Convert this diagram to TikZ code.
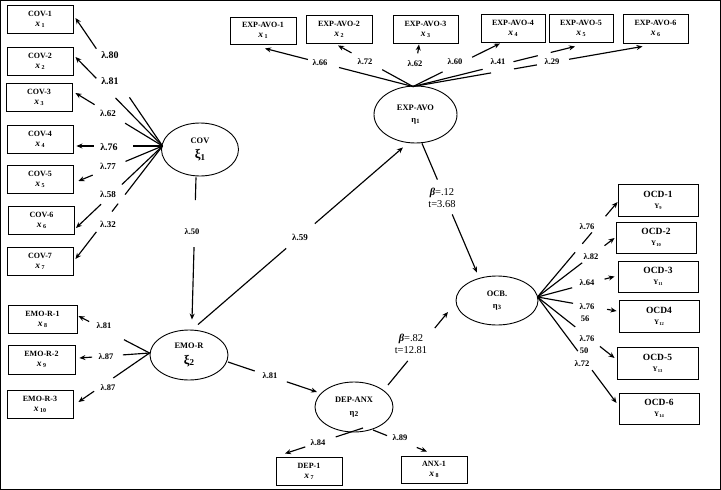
\documentclass[tikz,border=0pt]{standalone}
\usepackage{fontspec}
\setmainfont{Liberation Serif}
\usetikzlibrary{shapes.geometric,arrows.meta,calc}
\newcommand\segl[4]{\draw[conn] ($(#1)!#3!(#2)$) -- ($(#1)!#4!(#2)$);}
\newcommand\sega[3]{\draw[conn,arr] ($(#1)!#3!(#2)$) -- (#2);}
\newcommand\xsub[1]{{\fontsize{9.5}{10}\selectfont\itshape x}\,\raisebox{-1.2pt}{\fontsize{6}{6}\selectfont #1}}
\newcommand\ysub[1]{{\fontsize{7}{7}\selectfont Y\raisebox{-1pt}{\fontsize{4.5}{5}\selectfont #1}}}
\begin{document}
\begin{tikzpicture}[x=1pt,y=-1pt,
  conn/.style={line width=1.15pt},
  arr/.style={-{Stealth[length=6pt,width=5pt]}},
  obs/.style={draw,line width=0.9pt,minimum width=66pt,minimum height=28pt,inner sep=0pt,align=center,font=\fontsize{8}{9}\selectfont\bfseries},
  ocd/.style={obs,minimum width=80pt,minimum height=31pt,font=\fontsize{9.5}{10}\selectfont\bfseries},
  lat/.style={draw,ellipse,line width=0.9pt,inner sep=0pt,align=center,font=\fontsize{8.4}{9}\selectfont\bfseries},
  lam/.style={font=\fontsize{8.5}{9}\selectfont\bfseries,inner sep=0pt},
  lamb/.style={font=\fontsize{10}{11}\selectfont\bfseries,inner sep=0pt},
  lamm/.style={font=\fontsize{9}{10}\selectfont\bfseries,inner sep=0pt},
  beta/.style={font=\fontsize{10.5}{12}\selectfont,inner sep=0pt,align=center}
]
\useasboundingbox (0,0) rectangle (721,490);
\draw[line width=1pt] (0.5,0.5) rectangle (720.5,489.5);

% latent variables
\node[lat,minimum width=77pt,minimum height=53pt] (cov) at (200,149.5) {COV\\[5pt]{\fontsize{13}{13}\selectfont ξ\raisebox{-1.5pt}{\fontsize{9}{9}\selectfont 1}}};
\node[lat,minimum width=83pt,minimum height=57pt] (expavo) at (415.5,114.5) {EXP-AVO\\[3pt]{\fontsize{8.5}{8}\selectfont η\raisebox{-1pt}{\fontsize{6.5}{6}\selectfont 1}}};
\node[lat,minimum width=78pt,minimum height=50pt] (emo) at (189,355) {EMO-R\\[5pt]{\fontsize{13}{13}\selectfont ξ\raisebox{-1.5pt}{\fontsize{9}{9}\selectfont 2}}};
\node[lat,minimum width=78pt,minimum height=50pt] (depanx) at (354,407) {DEP-ANX\\[4pt]{\fontsize{8.5}{8}\selectfont η\raisebox{-1pt}{\fontsize{7.5}{7}\selectfont 2}}};
\node[lat,minimum width=82pt,minimum height=49pt] (ocb) at (497,300.5) {OCB.\\[3pt]{\fontsize{8.5}{8}\selectfont η\raisebox{-1pt}{\fontsize{6.5}{6}\selectfont 3}}};

% COV indicators
\node[obs] (cov1) at (40,19) {COV-1\\[1pt]\xsub{1}};
\node[obs] (cov2) at (40,61.5) {COV-2\\[1pt]\xsub{2}};
\node[obs] (cov3) at (39,97) {COV-3\\[1pt]\xsub{3}};
\node[obs] (cov4) at (40,139.5) {COV-4\\[1pt]\xsub{4}};
\node[obs] (cov5) at (40,179.5) {COV-5\\[1pt]\xsub{5}};
\node[obs] (cov6) at (41.5,220) {COV-6\\[1pt]\xsub{6}};
\node[obs] (cov7) at (40,261) {COV-7\\[1pt]\xsub{7}};
% EMO-R indicators
\node[obs,minimum width=69pt] (emo1) at (42.5,319) {EMO-R-1\\[1pt]\xsub{8}};
\node[obs,minimum width=67pt,minimum height=29pt] (emo2) at (41.5,359.5) {EMO-R-2\\[1pt]\xsub{9}};
\node[obs] (emo3) at (40,404) {EMO-R-3\\[1pt]\xsub{10}};
% EXP-AVO indicators
\node[obs,minimum height=27pt] (ea1) at (263,30.5) {EXP-AVO-1\\[1pt]\xsub{1}};
\node[obs] (ea2) at (339,29) {EXP-AVO-2\\[1pt]\xsub{2}};
\node[obs,minimum width=65pt] (ea3) at (425.5,29) {EXP-AVO-3\\[1pt]\xsub{3}};
\node[obs,minimum width=64pt] (ea4) at (513,28.5) {EXP-AVO-4\\[1pt]\xsub{4}};
\node[obs,minimum width=64pt] (ea5) at (581,28.5) {EXP-AVO-5\\[1pt]\xsub{5}};
\node[obs,minimum width=65pt,minimum height=29pt] (ea6) at (655.5,28.5) {EXP-AVO-6\\[1pt]\xsub{6}};
% OCB indicators
\node[ocd,minimum height=32pt] (ocd1) at (658,200) {OCD-1\\[1pt]\ysub{9}};
\node[ocd] (ocd2) at (656,237.5) {OCD-2\\[1pt]\ysub{10}};
\node[ocd] (ocd3) at (658,276.5) {OCD-3\\[1pt]\ysub{11}};
\node[ocd,minimum height=32pt] (ocd4) at (659,316) {OCD4\\[1pt]\ysub{12}};
\node[ocd,minimum width=81pt,minimum height=32pt] (ocd5) at (657.5,363) {OCD-5\\[1pt]\ysub{13}};
\node[ocd] (ocd6) at (659,408.5) {OCD-6\\[1pt]\ysub{14}};
% DEP-ANX indicators
\node[obs] (dep1) at (309,471) {DEP-1\\[1pt]\xsub{7}};
\node[obs,minimum height=27pt] (anx1) at (434,469.5) {ANX-1\\[1pt]\xsub{8}};

% fan points and arrow tips
\coordinate (covf) at ($(cov.west)+(1.5,-3.5)$);
\coordinate (tc1) at ($(cov1.east)+(2,-1)$);
\coordinate (tc2) at ($(cov2.east)+(2,-4.5)$);
\coordinate (tc3) at ($(cov3.east)+(3,-4)$);
\coordinate (tc4) at ($(cov4.east)+(3,6.5)$);
\coordinate (tc5) at ($(cov5.east)+(5,1.5)$);
\coordinate (tc6) at ($(cov6.east)+(1,8)$);
\coordinate (tc7) at ($(cov7.east)+(2,-2)$);
\coordinate (emof) at ($(emo.west)+(0,-2)$);
\coordinate (te1) at ($(emo1.east)+(1,-3)$);
\coordinate (te2) at ($(emo2.east)+(4,-1.5)$);
\coordinate (te3) at ($(emo3.east)+(5,-2)$);
\coordinate (eaf) at ($(expavo.north)+(-2.5,1)$);
\coordinate (ta1) at ($(ea1.south)+(2,4)$);
\coordinate (ta2) at ($(ea2.south)+(-1,2)$);
\coordinate (ta3) at ($(ea3.south)+(-6.5,1)$);
\coordinate (ta4) at ($(ea4.south)+(-13,0.5)$);
\coordinate (ta5) at ($(ea5.south)+(-6,3.5)$);
\coordinate (ta6) at ($(ea6.south)+(-13,3)$);
\coordinate (ocbf) at ($(ocb.east)+(-1,-3.5)$);
\coordinate (to1) at ($(ocd1.west)+(0,2)$);
\coordinate (to2) at ($(ocd2.west)+(-1,0.5)$);
\coordinate (to3) at ($(ocd3.west)+(-3,0)$);
\coordinate (to4) at ($(ocd4.west)+(-2,-5)$);
\coordinate (to5) at ($(ocd5.west)+(-2,-5)$);
\coordinate (to6) at ($(ocd6.west)+(-2,-5.5)$);

% COV loadings
\segl{covf}{tc1}{0}{0.38}\sega{covf}{tc1}{0.76}
\segl{covf}{tc2}{0}{0.54}\sega{covf}{tc2}{0.76}
\segl{covf}{tc3}{0}{0.43}\sega{covf}{tc3}{0.78}
\segl{covf}{tc4}{0}{0.34}\sega{covf}{tc4}{0.80}
\segl{covf}{tc5}{0}{0.44}\sega{covf}{tc5}{0.83}
\segl{covf}{tc6}{0}{0.47}\sega{covf}{tc6}{0.71}
\segl{covf}{tc7}{0}{0.43}\segl{covf}{tc7}{0.51}{0.58}\sega{covf}{tc7}{0.76}
\node[lamb] at (110,55) {λ.80};
\node[lamb] at (110,81) {λ.81};
\node[lamm] at (108,113) {λ.62};
\node[lamb] at (109,147) {λ.76};
\node[lamm] at (108,166) {λ.77};
\node[lamm] at (108,194) {λ.58};
\node[lamm] at (108,224) {λ.32};

% EMO-R loadings
\segl{emof}{te1}{0}{0.36}\sega{emof}{te1}{0.85}
\segl{emof}{te2}{0}{0.38}\sega{emof}{te2}{0.82}
\segl{emof}{te3}{0}{0.51}\sega{emof}{te3}{0.78}
\node[lam] at (104,326) {λ.81};
\node[lam] at (106,357) {λ.87};
\node[lam] at (108,388) {λ.87};

% EXP-AVO loadings
\segl{eaf}{ta1}{0}{0.50}\sega{eaf}{ta1}{0.71}
\segl{eaf}{ta2}{0}{0.41}\sega{eaf}{ta2}{0.82}
\sega{eaf}{ta3}{0.79}
\segl{eaf}{ta4}{0}{0.34}\sega{eaf}{ta4}{0.68}
\segl{eaf}{ta5}{0}{0.43}\segl{eaf}{ta5}{0.62}{0.77}\sega{eaf}{ta5}{0.85}
\segl{eaf}{ta6}{0}{0.34}\segl{eaf}{ta6}{0.44}{0.54}\sega{eaf}{ta6}{0.68}
\node[lam] at (320,63) {λ.66};
\node[lam] at (365,62) {λ.72};
\node[lam] at (415,64) {λ.62};
\node[lam] at (455,62) {λ.60};
\node[lam] at (498,62) {λ.41};
\node[lam] at (552,62) {λ.29};

% OCB loadings
\segl{ocbf}{to1}{0}{0.47}\segl{ocbf}{to1}{0.56}{0.68}\sega{ocbf}{to1}{0.85}
\segl{ocbf}{to2}{0}{0.58}\sega{ocbf}{to2}{0.87}
\segl{ocbf}{to3}{0}{0.45}\sega{ocbf}{to3}{0.87}
\segl{ocbf}{to4}{0}{0.45}\sega{ocbf}{to4}{0.88}
\segl{ocbf}{to5}{0}{0.49}\sega{ocbf}{to5}{0.81}
\segl{ocbf}{to6}{0}{0.51}\sega{ocbf}{to6}{0.69}
\node[lam] at (587,227) {λ.76};
\node[lam] at (591,257) {λ.82};
\node[lam] at (587,283) {λ.64};
\node[lam] at (587,307) {λ.76};
\node[lam] at (585,319) {56};
\node[lam] at (587,339) {λ.76};
\node[lam] at (584,351) {50};
\node[lam] at (582,364) {λ.72};

% DEP-ANX loadings
\coordinate (dps) at ($(depanx.center)+(9,21)$);
\coordinate (dpt) at ($(dep1.north)+(-24,-3)$);
\coordinate (axs) at ($(depanx.center)+(19,23)$);
\coordinate (axt) at ($(anx1.north)+(-7,-4)$);
\segl{dps}{dpt}{0}{0.35}\sega{dps}{dpt}{0.74}
\segl{axs}{axt}{0}{0.26}\sega{axs}{axt}{0.81}
\node[lam] at (318,443) {λ.84};
\node[lam] at (400,438) {λ.89};

% structural paths
\coordinate (c1s) at ($(cov.south)+(-4,1)$);
\coordinate (c1t) at ($(emo.north)+(3,-10)$);
\segl{c1s}{c1t}{0}{0.16}\sega{c1s}{c1t}{0.49}
\node[lam] at (192,232) {λ.50};

\coordinate (c2s) at ($(emo.north)+(9,-5)$);
\coordinate (c2t) at ($(expavo.south)+(-12.5,4)$);
\segl{c2s}{c2t}{0}{0.43}\sega{c2s}{c2t}{0.57}
\node[lamm] at (300,237) {λ.59};

\coordinate (c3s) at ($(emo.center)+(39,7)$);
\coordinate (c3t) at ($(depanx.center)+(-37,-15)$);
\segl{c3s}{c3t}{0}{0.30}\sega{c3s}{c3t}{0.66}
\node[lam] at (270,376) {λ.81};

\coordinate (c4s) at ($(expavo.south)+(6.5,0)$);
\coordinate (c4t) at ($(ocb.north)+(-20,-3)$);
\segl{c4s}{c4t}{0}{0.28}\sega{c4s}{c4t}{0.55}
\node[beta] at (442,197.5) {\textbf{\textit{β}}=.12\\t=3.68};

\coordinate (c5s) at ($(depanx.center)+(34,-22)$);
\coordinate (c5t) at ($(ocb.center)+(-49,11.5)$);
\segl{c5s}{c5t}{0}{0.33}\sega{c5s}{c5t}{0.78}
\node[beta] at (411,344) {\textbf{\textit{β}}=.82\\t=12.81};
\end{tikzpicture}
\end{document}
